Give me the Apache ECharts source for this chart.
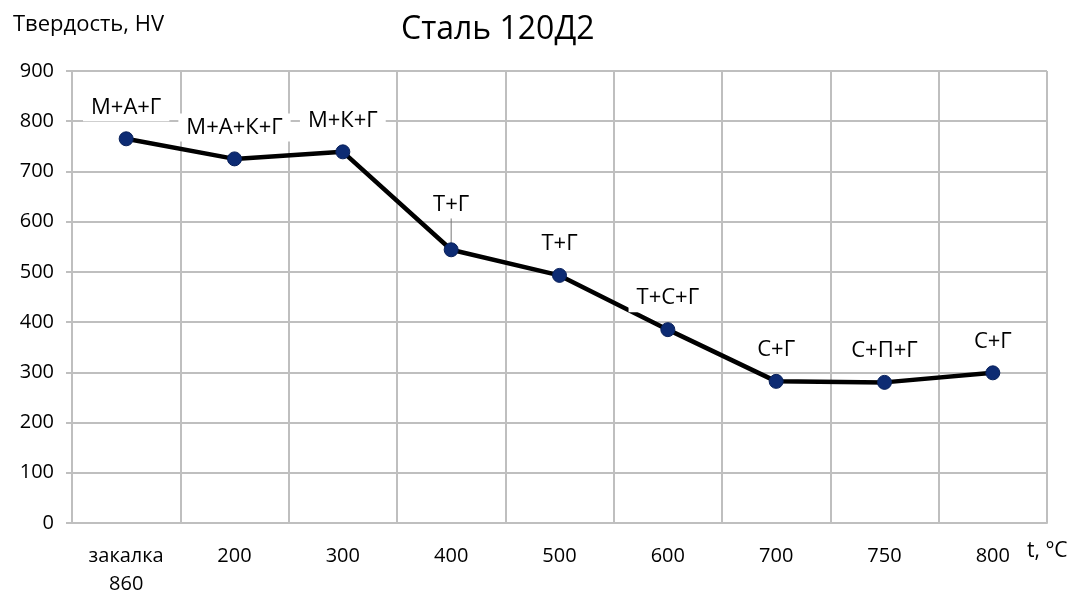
<!DOCTYPE html>
<html>
<head>
<meta charset="utf-8">
<script src="https://cdn.jsdelivr.net/npm/echarts@6/dist/echarts.min.js"></script>
<style>
  html, body { margin: 0; padding: 0; background: #fff; }
  #chart { width: 1081px; height: 595px; }
</style>
</head>
<body>
<div id="chart"></div>
<script>
// температура отпуска
const categories = ['закалка\n860', '200', '300', '400', '500', '600', '700', '750', '800']
// твердость, HV
const hardness = [765, 725, 739, 544, 493, 385, 282, 280, 299]
// структура
const phases = ['М+А+Г', 'М+А+К+Г', 'М+К+Г', 'Т+Г', 'Т+Г', 'Т+С+Г', 'С+Г', 'С+П+Г', 'С+Г']
const yTicks = [0, 100, 200, 300, 400, 500, 600, 700, 800, 900]

const font = 'Open Sans'
const chart = echarts.init(document.getElementById('chart'))

const option = {
  backgroundColor: '#fff',
  title: [
    {
      text: 'Сталь 120Д2',
      left: 396,
      top: 9,
      textStyle: { fontFamily: font, fontSize: 32, fontWeight: 'normal', color: '#000' }
    },
    {
      // подпись оси Y
      text: 'Твердость, HV',
      left: 8,
      top: 9,
      textStyle: { fontFamily: font, fontSize: 22, fontWeight: 'normal', color: '#000' }
    }
  ],
  grid: { left: 72, right: 34, top: 71, bottom: 72, outerBoundsMode: 'none' },
  xAxis: {
    type: 'category',
    data: categories,
    boundaryGap: true,
    name: 't, °C',
    nameLocation: 'end',
    nameGap: -20,
    nameTextStyle: {
      fontFamily: font, fontSize: 21, color: '#000',
      align: 'left', verticalAlign: 'top', padding: [18, 0, 0, 0]
    },
    axisLine: { lineStyle: { color: '#bfbfbf', width: 2 } },
    axisTick: { show: false },
    axisLabel: {
      fontFamily: font, fontSize: 20, color: '#000', margin: 19, lineHeight: 28
    },
    splitLine: { show: true, lineStyle: { color: '#bfbfbf', width: 2 } }
  },
  yAxis: {
    type: 'value',
    min: yTicks[0],
    max: yTicks[yTicks.length - 1],
    interval: 100,
    axisLine: { show: true, lineStyle: { color: '#bfbfbf', width: 2 } },
    axisTick: { show: true, length: 6, lineStyle: { color: '#bfbfbf', width: 2 } },
    axisLabel: { fontFamily: font, fontSize: 20, color: '#000', margin: 18 },
    splitLine: { show: true, lineStyle: { color: '#bfbfbf', width: 2 } }
  },
  series: [
    {
      type: 'line',
      data: hardness.map((v, i) => ({
        value: v,
        label: { formatter: phases[i] },
        labelLine: { show: i === 3 }
      })),
      symbol: 'circle',
      symbolSize: 14,
      lineStyle: { color: '#000', width: 4.5 },
      itemStyle: { color: '#0d2b73', borderColor: '#08205a', borderWidth: 1 },
      label: {
        show: true,
        position: 'top',
        distance: 10,
        fontFamily: font,
        fontSize: 22,
        color: '#000',
        backgroundColor: '#fff',
        padding: [3, 8]
      },
      labelLine: { show: false, lineStyle: { color: '#777', width: 1 } },
      labelLayout: (p) => (p.dataIndex === 3 ? { dy: -14 } : {}),
      z: 3
    }
  ]
}

chart.setOption(option)
</script>
</body>
</html>
